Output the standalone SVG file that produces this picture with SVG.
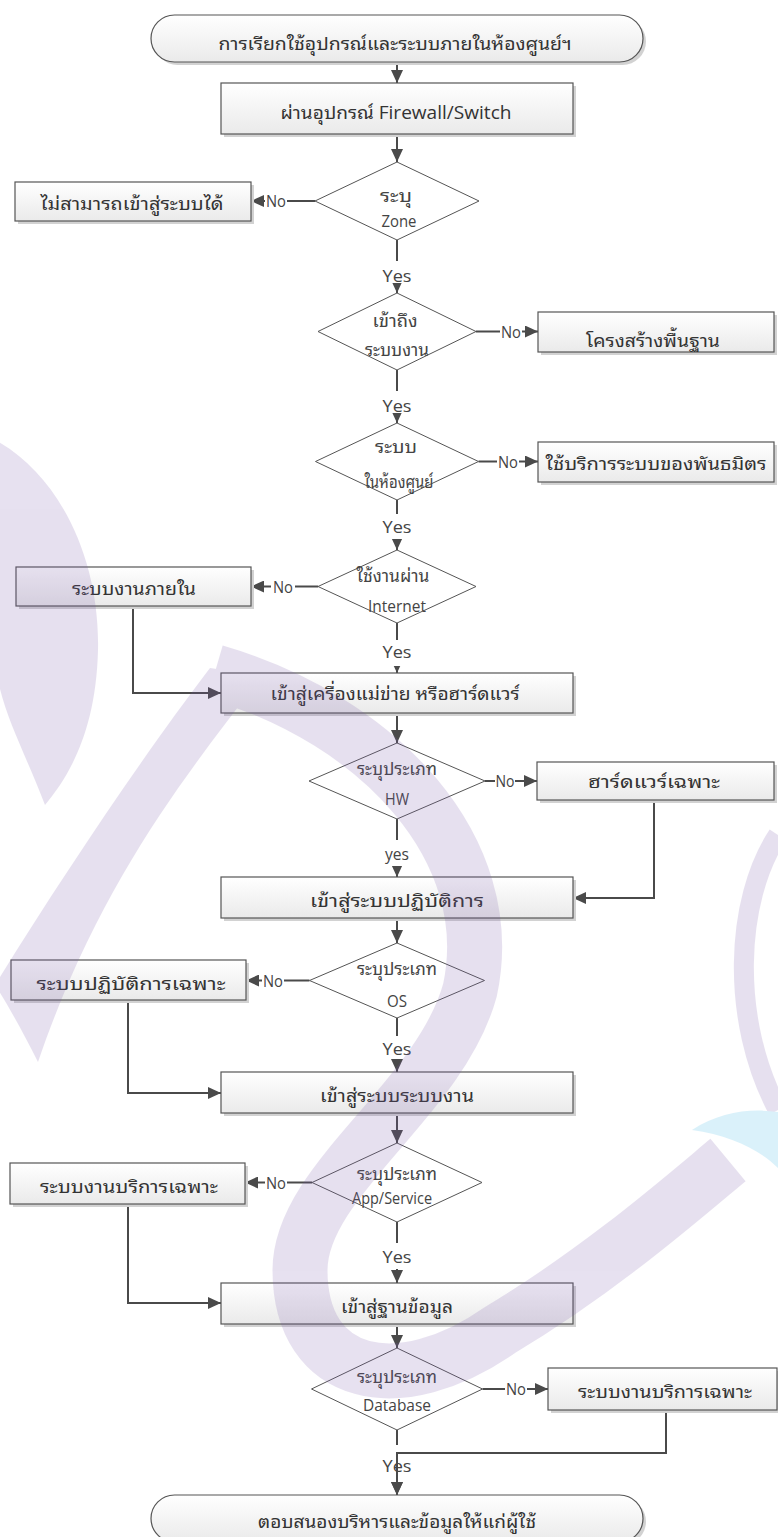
<svg xmlns="http://www.w3.org/2000/svg" width="778" height="1537" viewBox="0 0 778 1537">
  <defs>
    <linearGradient id="fillBox" x1="0" y1="0" x2="0" y2="1">
      <stop offset="0" stop-color="#ffffff"/>
      <stop offset="1" stop-color="#eaeaea"/>
    </linearGradient>
    <marker id="arrow" markerUnits="userSpaceOnUse" markerWidth="13" markerHeight="12" refX="13" refY="6" orient="auto">
      <path d="M0,0 L13,6 L0,12 Z" fill="#4a4a4a"/>
    </marker>
    <style>
      .box { fill: url(#fillBox); stroke: #555; stroke-width: 1.2; }
      .shadow { fill: #d2d2d2; }
      .dia { fill: #ffffff; stroke: #555; stroke-width: 1; }
      .con { fill: none; stroke: #4a4a4a; stroke-width: 2; marker-end: url(#arrow); }
      .bg { fill: #ffffff; }
      text { font-family: "Open Sans", "Noto Sans Thai Looped", "Loma", "Noto Sans Thai", "Noto Sans", sans-serif; text-anchor: middle; }
      .t { font-size: 18px; fill: #333; }
      .d { font-size: 17px; fill: #444; }
      .lbl { font-size: 17px; fill: #444; }
    </style>
  </defs>

  <rect width="778" height="1537" fill="#ffffff"/>

  <!-- connectors and their Yes / No labels -->
  <g id="connectors">
    <path class="con" d="M397 62 V83"/>
    <path class="con" d="M397 134 V162"/>

    <path class="con" d="M315 201 H251"/>
    <rect class="bg" x="265" y="192" width="22" height="18"/>
    <text class="lbl" x="276" y="207" textLength="20" lengthAdjust="spacingAndGlyphs">No</text>

    <path class="con" d="M397 240 V293"/>
    <rect class="bg" x="381" y="261" width="32" height="22"/>
    <text class="lbl" x="397" y="282" textLength="29" lengthAdjust="spacingAndGlyphs">Yes</text>

    <path class="con" d="M476 331.5 H538"/>
    <rect class="bg" x="500" y="322" width="22" height="18"/>
    <text class="lbl" x="511" y="337.5" textLength="20" lengthAdjust="spacingAndGlyphs">No</text>

    <path class="con" d="M397 370 V423"/>
    <rect class="bg" x="381" y="391" width="32" height="22"/>
    <text class="lbl" x="397" y="412" textLength="29" lengthAdjust="spacingAndGlyphs">Yes</text>

    <path class="con" d="M478.5 461.5 H538"/>
    <rect class="bg" x="497" y="452" width="22" height="18"/>
    <text class="lbl" x="508" y="467.5" textLength="20" lengthAdjust="spacingAndGlyphs">No</text>

    <path class="con" d="M397 500 V550"/>
    <rect class="bg" x="381" y="514" width="32" height="25"/>
    <text class="lbl" x="397" y="533" textLength="29" lengthAdjust="spacingAndGlyphs">Yes</text>

    <path class="con" d="M318 586.5 H251"/>
    <rect class="bg" x="271" y="577" width="24" height="18"/>
    <text class="lbl" x="283" y="592.5" textLength="20" lengthAdjust="spacingAndGlyphs">No</text>

    <path class="con" d="M397 623 V673"/>
    <rect class="bg" x="381" y="640" width="32" height="26"/>
    <text class="lbl" x="397" y="658" textLength="29" lengthAdjust="spacingAndGlyphs">Yes</text>

    <path class="con" d="M133 606 V693 H221"/>
    <path class="con" d="M397 713 V743"/>

    <path class="con" d="M485 781 H537"/>
    <rect class="bg" x="495" y="772" width="20" height="18"/>
    <text class="lbl" x="505" y="787" textLength="19" lengthAdjust="spacingAndGlyphs">No</text>

    <path class="con" d="M397 819 V877"/>
    <rect class="bg" x="383" y="840" width="28" height="26"/>
    <text class="lbl" x="397" y="860" textLength="24" lengthAdjust="spacingAndGlyphs">yes</text>

    <path class="con" d="M654 800 V898 H573"/>
    <path class="con" d="M397 918 V943"/>

    <path class="con" d="M309.5 980.5 H246"/>
    <rect class="bg" x="262" y="971" width="22" height="18"/>
    <text class="lbl" x="273" y="986.5" textLength="20" lengthAdjust="spacingAndGlyphs">No</text>

    <path class="con" d="M397 1018 V1072"/>
    <rect class="bg" x="381" y="1036" width="32" height="23"/>
    <text class="lbl" x="397" y="1055" textLength="29" lengthAdjust="spacingAndGlyphs">Yes</text>

    <path class="con" d="M128 1000 V1093 H221"/>
    <path class="con" d="M397 1113 V1143"/>

    <path class="con" d="M312 1182.5 H245"/>
    <rect class="bg" x="265" y="1173" width="22" height="18"/>
    <text class="lbl" x="276" y="1188.5" textLength="20" lengthAdjust="spacingAndGlyphs">No</text>

    <path class="con" d="M397 1222 V1283"/>
    <rect class="bg" x="381" y="1243" width="32" height="26"/>
    <text class="lbl" x="397" y="1263" textLength="29" lengthAdjust="spacingAndGlyphs">Yes</text>

    <path class="con" d="M128 1204 V1303 H221"/>
    <path class="con" d="M397 1324 V1348"/>

    <path class="con" d="M482.5 1389 H548"/>
    <rect class="bg" x="505" y="1380" width="22" height="18"/>
    <text class="lbl" x="516" y="1395" textLength="20" lengthAdjust="spacingAndGlyphs">No</text>

    <path class="con" d="M397 1430 V1495"/>
    <rect class="bg" x="381" y="1445" width="32" height="34"/>
    <text class="lbl" x="397" y="1472" textLength="29" lengthAdjust="spacingAndGlyphs">Yes</text>
    <path class="con" d="M666 1410 V1453 H397 V1495"/>
  </g>

  <!-- start / end terminators -->
  <g id="start">
    <rect class="shadow" x="154" y="18" width="492" height="47" rx="23.5"/>
    <rect class="box" x="151" y="15" width="492" height="47" rx="23.5"/>
    <text class="t" x="395" y="50" textLength="353" lengthAdjust="spacingAndGlyphs">การเรียกใช้อุปกรณ์และระบบภายในห้องศูนย์ฯ</text>
  </g>

  <g id="firewall">
    <rect class="shadow" x="224" y="86" width="352" height="51"/>
    <rect class="box" x="221" y="83" width="352" height="51"/>
    <text class="t" x="396" y="119" textLength="231" lengthAdjust="spacingAndGlyphs">ผ่านอุปกรณ์ Firewall/Switch</text>
  </g>

  <g id="dec-zone">
    <polygon class="dia" points="397,162 479,201 397,240 315,201"/>
    <text class="d" x="396" y="202" textLength="32" lengthAdjust="spacingAndGlyphs">ระบุ</text>
    <text class="d" x="399" y="227" textLength="35" lengthAdjust="spacingAndGlyphs">Zone</text>
  </g>

  <g id="no-access">
    <rect class="shadow" x="18" y="185" width="236" height="39"/>
    <rect class="box" x="15" y="182" width="236" height="39"/>
    <text class="t" x="132" y="210" textLength="183" lengthAdjust="spacingAndGlyphs">ไม่สามารถเข้าสู่ระบบได้</text>
  </g>

  <g id="dec-access">
    <polygon class="dia" points="397,293 476,331.5 397,370 318,331.5"/>
    <text class="d" x="395" y="327" textLength="45" lengthAdjust="spacingAndGlyphs">เข้าถึง</text>
    <text class="d" x="397" y="356" textLength="64" lengthAdjust="spacingAndGlyphs">ระบบงาน</text>
  </g>

  <g id="infrastructure">
    <rect class="shadow" x="541" y="315" width="236" height="40"/>
    <rect class="box" x="538" y="312" width="236" height="40"/>
    <text class="t" x="653" y="347" textLength="134" lengthAdjust="spacingAndGlyphs">โครงสร้างพื้นฐาน</text>
  </g>

  <g id="dec-in-center">
    <polygon class="dia" points="397,423 478.5,461.5 397,500 315.5,461.5"/>
    <text class="d" x="396" y="453" textLength="42" lengthAdjust="spacingAndGlyphs">ระบบ</text>
    <text class="d" x="399" y="488" textLength="69" lengthAdjust="spacingAndGlyphs">ในห้องศูนย์</text>
  </g>

  <g id="partner">
    <rect class="shadow" x="541" y="445" width="236" height="40"/>
    <rect class="box" x="538" y="442" width="236" height="40"/>
    <text class="t" x="656" y="470" textLength="221" lengthAdjust="spacingAndGlyphs">ใช้บริการระบบของพันธมิตร</text>
  </g>

  <g id="dec-internet">
    <polygon class="dia" points="397,550 476,586.5 397,623 318,586.5"/>
    <text class="d" x="393" y="582" textLength="73" lengthAdjust="spacingAndGlyphs">ใช้งานผ่าน</text>
    <text class="d" x="397" y="612" textLength="58" lengthAdjust="spacingAndGlyphs">Internet</text>
  </g>

  <g id="internal">
    <rect class="shadow" x="19" y="570" width="235" height="39"/>
    <rect class="box" x="16" y="567" width="235" height="39"/>
    <text class="t" x="134" y="595" textLength="124" lengthAdjust="spacingAndGlyphs">ระบบงานภายใน</text>
  </g>

  <g id="server">
    <rect class="shadow" x="224" y="676" width="352" height="40"/>
    <rect class="box" x="221" y="673" width="352" height="40"/>
    <text class="t" x="395" y="700" textLength="249" lengthAdjust="spacingAndGlyphs">เข้าสู่เครื่องแม่ข่าย หรือฮาร์ดแวร์</text>
  </g>

  <g id="dec-hw">
    <polygon class="dia" points="397,743 485,781 397,819 309,781"/>
    <text class="d" x="397" y="775" textLength="80" lengthAdjust="spacingAndGlyphs">ระบุประเภท</text>
    <text class="d" x="397" y="805" textLength="24" lengthAdjust="spacingAndGlyphs">HW</text>
  </g>

  <g id="special-hw">
    <rect class="shadow" x="540" y="765" width="237" height="38"/>
    <rect class="box" x="537" y="762" width="237" height="38"/>
    <text class="t" x="654" y="788" textLength="132" lengthAdjust="spacingAndGlyphs">ฮาร์ดแวร์เฉพาะ</text>
  </g>

  <g id="os">
    <rect class="shadow" x="224" y="880" width="352" height="41"/>
    <rect class="box" x="221" y="877" width="352" height="41"/>
    <text class="t" x="397" y="907" textLength="174" lengthAdjust="spacingAndGlyphs">เข้าสู่ระบบปฏิบัติการ</text>
  </g>

  <g id="dec-os">
    <polygon class="dia" points="397,943 484.5,980.5 397,1018 309.5,980.5"/>
    <text class="d" x="397" y="975" textLength="80" lengthAdjust="spacingAndGlyphs">ระบุประเภท</text>
    <text class="d" x="397" y="1007" textLength="20" lengthAdjust="spacingAndGlyphs">OS</text>
  </g>

  <g id="special-os">
    <rect class="shadow" x="14" y="963" width="235" height="40"/>
    <rect class="box" x="11" y="960" width="235" height="40"/>
    <text class="t" x="131" y="990" textLength="189" lengthAdjust="spacingAndGlyphs">ระบบปฏิบัติการเฉพาะ</text>
  </g>

  <g id="application">
    <rect class="shadow" x="224" y="1075" width="352" height="41"/>
    <rect class="box" x="221" y="1072" width="352" height="41"/>
    <text class="t" x="397" y="1102" textLength="154" lengthAdjust="spacingAndGlyphs">เข้าสู่ระบบระบบงาน</text>
  </g>

  <g id="dec-app">
    <polygon class="dia" points="397,1143 482,1182.5 397,1222 312,1182.5"/>
    <text class="d" x="397" y="1180" textLength="80" lengthAdjust="spacingAndGlyphs">ระบุประเภท</text>
    <text class="d" x="392" y="1204" textLength="80" lengthAdjust="spacingAndGlyphs">App/Service</text>
  </g>

  <g id="special-app">
    <rect class="shadow" x="13" y="1166" width="235" height="41"/>
    <rect class="box" x="10" y="1163" width="235" height="41"/>
    <text class="t" x="129" y="1193" textLength="178" lengthAdjust="spacingAndGlyphs">ระบบงานบริการเฉพาะ</text>
  </g>

  <g id="database">
    <rect class="shadow" x="224" y="1286" width="352" height="41"/>
    <rect class="box" x="221" y="1283" width="352" height="41"/>
    <text class="t" x="397" y="1313" textLength="112" lengthAdjust="spacingAndGlyphs">เข้าสู่ฐานข้อมูล</text>
  </g>

  <g id="dec-db">
    <polygon class="dia" points="397,1348 482.5,1389 397,1430 311.5,1389"/>
    <text class="d" x="397" y="1383" textLength="80" lengthAdjust="spacingAndGlyphs">ระบุประเภท</text>
    <text class="d" x="397" y="1411" textLength="68" lengthAdjust="spacingAndGlyphs">Database</text>
  </g>

  <g id="special-db">
    <rect class="shadow" x="551" y="1371" width="229" height="42"/>
    <rect class="box" x="548" y="1368" width="229" height="42"/>
    <text class="t" x="665" y="1398" textLength="174" lengthAdjust="spacingAndGlyphs">ระบบงานบริการเฉพาะ</text>
  </g>

  <g id="end">
    <rect class="shadow" x="154" y="1498" width="492" height="47" rx="23.5"/>
    <rect class="box" x="151" y="1495" width="492" height="47" rx="23.5"/>
    <text class="t" x="397" y="1528" textLength="278" lengthAdjust="spacingAndGlyphs">ตอบสนองบริหารและข้อมูลให้แก่ผู้ใช้</text>
  </g>

  <!-- translucent logo sweeps laid over the page -->
  <g id="watermark" opacity="0.18">
    <path d="M-5 440 C60 475 100 560 98 650 C96 730 70 775 45 805 C20 740 -5 700 -5 650 Z" fill="#7a5aaa"/>
    <path d="M210 668 L262 676 C190 770 100 880 38 1062 C22 1030 5 1000 -5 985 C60 880 140 760 210 668 Z" fill="#7a5aaa"/>
    <path d="M215 672 C380 720 500 850 470 990 C440 1100 300 1180 300 1270 C300 1380 400 1400 500 1330 C600 1270 680 1200 728 1160" fill="none" stroke="#7a5aaa" stroke-width="55"/>
    <path d="M778 835 C735 900 730 1020 778 1110" fill="none" stroke="#7a5aaa" stroke-width="20"/>
    <path d="M692 1130 C720 1112 750 1108 778 1112 L778 1168 C760 1150 730 1135 692 1130 Z" fill="#37b4e6"/>
  </g>
</svg>
